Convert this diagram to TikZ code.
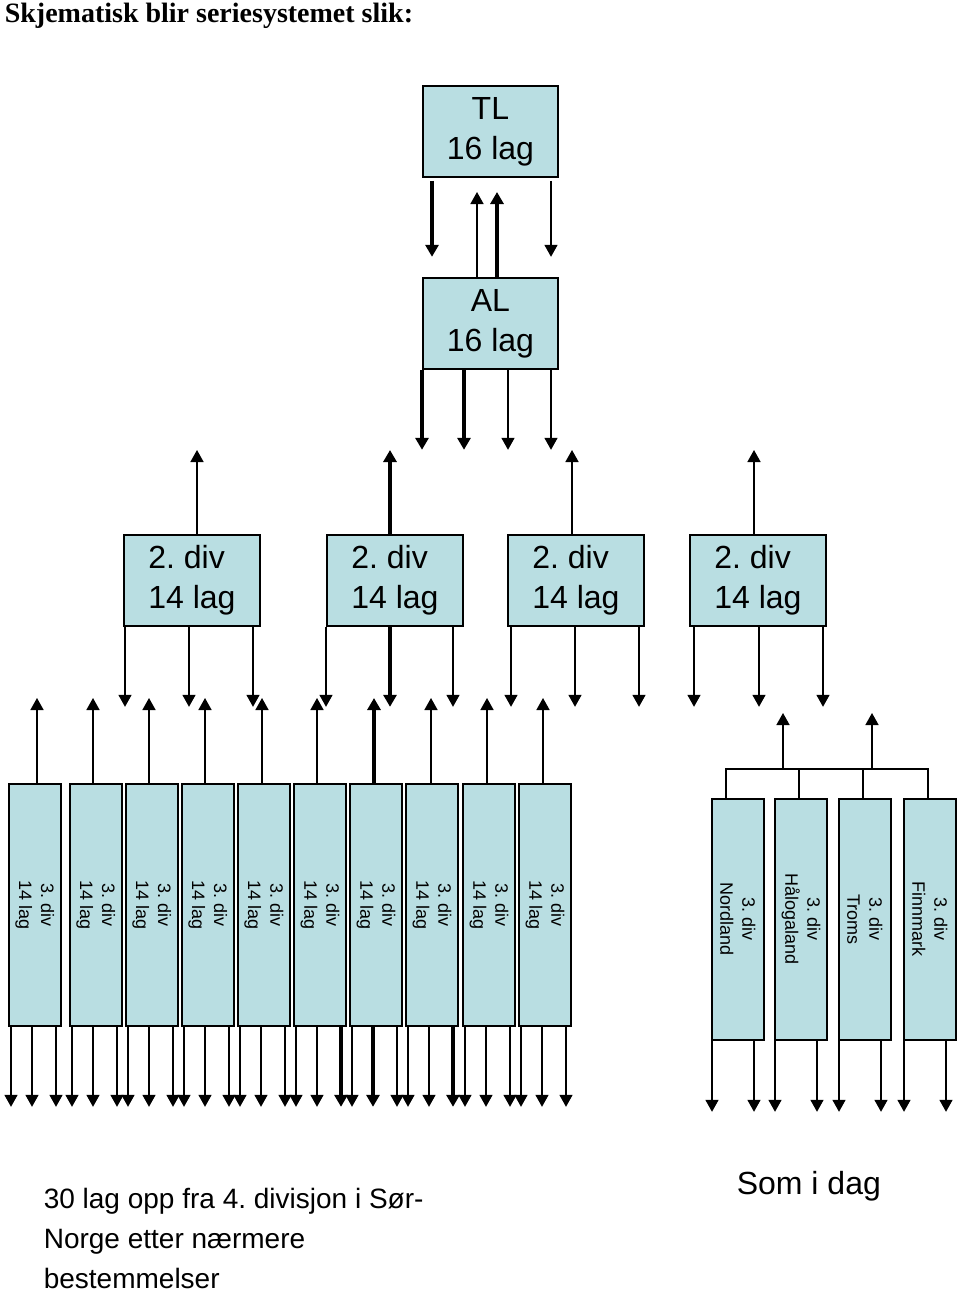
\documentclass[tikz,border=0pt]{standalone}
\usepackage{fontspec}
\setmainfont{Liberation Sans}
\newfontfamily\titlefont{Liberation Serif}
\usepackage{tikz}
\usetikzlibrary{arrows.meta}
\definecolor{boxblue}{RGB}{185,222,226}
\tikzset{
	box node/.style={rectangle,draw,fill=boxblue,line width=1.8pt,inner sep=0pt,anchor=north west},
	league node/.style={box node,minimum width=135pt,minimum height=91pt,align=center,font=\fontsize{32}{40}\selectfont},
	div node/.style={box node,minimum width=136pt,minimum height=91pt,align=left,font=\fontsize{32}{40}\selectfont},
	tall node/.style={box node,minimum width=52pt,minimum height=242pt},
	tall text/.style={rotate=-90,align=center,inner sep=0pt,font=\fontsize{18}{22}\selectfont},
	thin line/.style={line width=1.6pt},
	thick line/.style={line width=3.4pt}
}
\frenchspacing

\begin{document}
\begin{tikzpicture}[x=1pt,y=-1pt,->,>={Triangle[length=12pt,width=13pt]},thin line]
    \useasboundingbox (0,0) rectangle (960,1295);
    \node[anchor=base west,inner sep=0pt,font=\titlefont\bfseries\fontsize{28}{34}\selectfont] (title) at (4,23) {Skjematisk blir seriesystemet slik:};

    % top leagues
    \node[league node] (tl) at (422,85) {TL\\16 lag};
    \node[league node] (al) at (422,277) {AL\\16 lag};
    \draw[thick line] ([xshift=10pt,yshift=-3pt]tl.south west) -- ++(0,76);
    \draw ([xshift=129pt,yshift=-3pt]tl.south west) -- ++(0,76);
    \draw ([xshift=55pt]al.north west) -- ++(0,-85);
    \draw[thick line] ([xshift=75pt]al.north west) -- ++(0,-85);
    \foreach \dx/\w in {0/thick line,42/thick line,86/thin line,129/thin line}
        \draw[\w] ([xshift=\dx pt]al.south west) -- ++(0,80);

    % 2. div
    \foreach \i/\x in {1/123,2/326,3/507,4/689}
        \node[div node] (d\i) at (\x,534) {2. div\\14 lag};
    \foreach \b/\dx/\w in {d1/74/thin line,d2/64/thick line,d3/65/thin line,d4/65/thin line}
        \draw[\w] ([xshift=\dx pt]\b.north west) -- ++(0,-84);
    \foreach \b/\dx/\w in {d1/2/thin line,d1/66/thin line,d1/130/thin line,
                           d2/0/thin line,d2/64/thick line,d2/127/thin line,
                           d3/4/thin line,d3/68/thin line,d3/132/thin line,
                           d4/5/thin line,d4/70/thin line,d4/134/thin line}
        \draw[\w] ([xshift=\dx pt]\b.south west) -- ++(0,80);

    % 3. div, south
    \foreach \i/\x in {1/8,2/69,3/125,4/181,5/237,6/293,7/349,8/405,9/462,10/518}{
        \node[tall node] (c\i) at (\x,783) {};
        \node[tall text] (ct\i) at (c\i.center) {3. div\\14 lag};
        \draw ([xshift=3pt]c\i.south west) -- ++(0,80);
    }
    \foreach \b/\u/\w in {c1/29/thin line,c2/24/thin line,c3/24/thin line,c4/24/thin line,c5/25/thin line,
                          c6/24/thin line,c7/25/thick line,c8/26/thin line,c9/25/thin line,c10/25/thin line}{
        \draw[\w] ([xshift=\u pt]\b.north west) -- ++(0,-85);
        \draw[\w] ([xshift=24pt]\b.south west) -- ++(0,80);
    }
    \foreach \b/\w in {c1/thin line,c2/thin line,c3/thin line,c4/thin line,c5/thin line,
                       c6/thick line,c7/thin line,c8/thick line,c9/thin line,c10/thin line}
        \draw[\w] ([xshift=48pt]\b.south west) -- ++(0,80);

    % 3. div, north
    \foreach \i/\x/\t in {1/711/Nordland,2/774/Hålogaland,3/838/Troms,4/903/Finnmark}{
        \node[tall node,minimum height=241pt] (r\i) at (\x,798) {};
        \node[tall text] (rt\i) at (r\i.center) {3. div\\\t};
        \draw ([xshift=1pt]r\i.south west) -- ++(0,71);
        \draw ([xshift=43pt]r\i.south west) -- ++(0,71);
    }
    \coordinate (bar west) at ([xshift=15pt,yshift=29pt]r1.north west);
    \coordinate (bar east) at ([xshift=25pt,yshift=29pt]r4.north west);
    \draw[-] ([xshift=15pt]r1.north west) -- (bar west) -- (bar east) -- ([xshift=25pt]r4.north west);
    \draw[-] ([xshift=25pt]r2.north west) -- ++(0,-29);
    \draw[-] ([xshift=25pt]r3.north west) -- ++(0,-29);
    \draw ([xshift=57pt]bar west) -- ++(0,-56);
    \draw ([xshift=146pt]bar west) -- ++(0,-56);

    % notes
    \node[anchor=base west,align=left,inner sep=0pt,font=\fontsize{28}{40}\selectfont] (note) at (43,1288) {30 lag opp fra 4. divisjon i Sør-\\Norge etter nærmere\\bestemmelser};
    \node[anchor=base west,inner sep=0pt,font=\fontsize{32}{40}\selectfont] (today) at (736,1194) {Som i dag};
\end{tikzpicture}
\end{document}
